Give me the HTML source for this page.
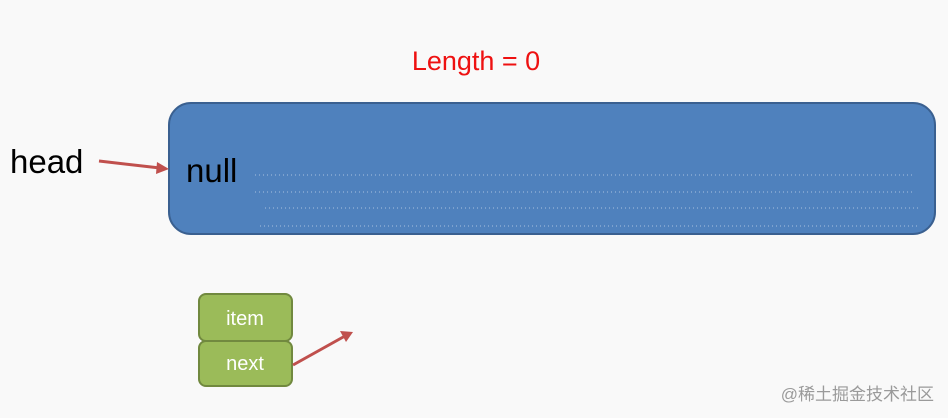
<!DOCTYPE html>
<html><head><meta charset="utf-8"><style>
html,body{margin:0;padding:0;background:#f9f9f9;}
body{width:948px;height:418px;overflow:hidden;position:relative;}
</style></head><body>
<svg width="948" height="418" xmlns="http://www.w3.org/2000/svg" style="position:absolute;left:0;top:0">
<rect width="948" height="418" fill="#f9f9f9"/>
<text x="476" y="70" text-anchor="middle" font-family="Liberation Sans, sans-serif" font-size="27" fill="#ee1111">Length = 0</text>
<rect x="169" y="103" width="766" height="131" rx="22" fill="#4f81bd" stroke="#3a6090" stroke-width="2"/>
<g stroke="#a9c1e0" stroke-width="1" stroke-dasharray="1 3" fill="none">
<line x1="255" y1="175" x2="915" y2="175"/>
<line x1="255" y1="192" x2="915" y2="192"/>
<line x1="265" y1="208" x2="918" y2="208"/>
<line x1="260" y1="226" x2="918" y2="226"/>
</g>
<text x="186" y="182" font-family="Liberation Sans, sans-serif" font-size="33" fill="#000">null</text>
<text x="10" y="173" font-family="Liberation Sans, sans-serif" font-size="33" fill="#000">head</text>
<line x1="99" y1="161" x2="160" y2="168" stroke="#c0504d" stroke-width="3"/>
<polygon points="169,169 157,162 156,174" fill="#c0504d"/>
<rect x="199" y="294" width="93" height="47" rx="7" fill="#9bbb59" stroke="#71893f" stroke-width="2"/>
<rect x="199" y="341" width="93" height="45" rx="7" fill="#9bbb59" stroke="#71893f" stroke-width="2"/>
<text x="245" y="325" text-anchor="middle" font-family="Liberation Sans, sans-serif" font-size="20" fill="#fff">item</text>
<text x="245" y="370" text-anchor="middle" font-family="Liberation Sans, sans-serif" font-size="20" fill="#fff">next</text>
<line x1="293" y1="365" x2="345" y2="336" stroke="#c0504d" stroke-width="3"/>
<polygon points="353,332 340,331 346,342" fill="#c0504d"/>
<text x="934" y="400" text-anchor="end" font-family="Liberation Sans, Noto Sans CJK SC, sans-serif" font-size="17" fill="#9a9a9a">@稀土掘金技术社区</text>
</svg>
</body></html>
